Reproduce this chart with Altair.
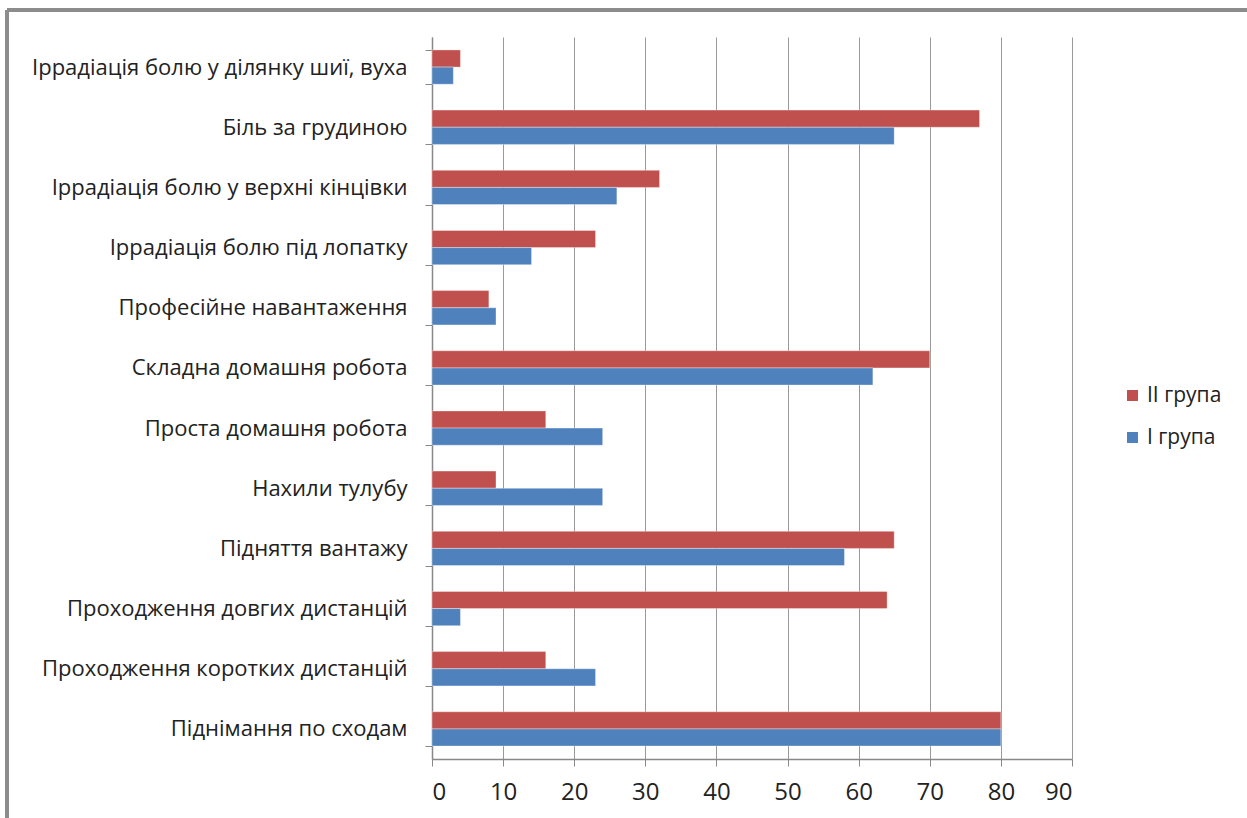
import altair as alt
import pandas as pd

# Categories, listed top to bottom
categories = [
    "Іррадіація болю у ділянку шиї, вуха",
    "Біль за грудиною",
    "Іррадіація болю у верхні кінцівки",
    "Іррадіація болю під лопатку",
    "Професійне навантаження",
    "Складна домашня робота",
    "Проста домашня робота",
    "Нахили тулубу",
    "Підняття вантажу",
    "Проходження довгих дистанцій",
    "Проходження коротких дистанцій",
    "Піднімання по сходам",
]
group_2 = [4, 77, 32, 23, 8, 70, 16, 9, 65, 64, 16, 80]
group_1 = [3, 65, 26, 14, 9, 62, 24, 24, 58, 4, 23, 80]
series = ["II група", "I група"]
colors = ["#C0504D", "#4F81BD"]
x_ticks = [0, 10, 20, 30, 40, 50, 60, 70, 80, 90]

rows = []
for cat, v2, v1 in zip(categories, group_2, group_1):
    rows.append({"cat": cat, "group": series[0], "value": v2})
    rows.append({"cat": cat, "group": series[1], "value": v1})
df = pd.DataFrame(rows)

FONT = "Open Sans"
FS = 22
W, H = 640, 722

bars = alt.Chart(df).mark_bar(
    stroke="white", strokeWidth=0.6, strokeOpacity=0.6
).encode(
    y=alt.Y(
        "cat:N",
        sort=categories,
        scale=alt.Scale(paddingInner=0.43, paddingOuter=0.215),
        axis=alt.Axis(
            title=None,
            labelFont=FONT,
            labelFontSize=FS,
            labelColor="#222222",
            labelPadding=18,
            labelLimit=420,
            ticks=True,
            tickSize=7,
            tickColor="#888888",
            domainColor="#888888",
            domainWidth=1.5,
            grid=False,
            tickBand="extent",
        ),
    ),
    yOffset=alt.YOffset("group:N", sort=series, scale=alt.Scale(paddingInner=0)),
    x=alt.X(
        "value:Q",
        scale=alt.Scale(domain=[0, 90], nice=False),
        axis=alt.Axis(
            title=None,
            values=x_ticks,
            labelFont=FONT,
            labelFontSize=24,
            labelColor="#222222",
            labelPadding=14,
            tickSize=7,
            tickColor="#888888",
            domainColor="#888888",
            domainWidth=1.5,
            gridColor="#999999",
            gridWidth=1,
        ),
    ),
    color=alt.Color(
        "group:N",
        sort=series,
        scale=alt.Scale(domain=series, range=colors),
        legend=alt.Legend(
            title=None,
            orient="none",
            legendX=690,
            legendY=348,
            symbolType="square",
            symbolSize=120,
            symbolStrokeWidth=0,
            labelFont=FONT,
            labelFontSize=FS - 1,
            labelColor="#222222",
            rowPadding=20,
            labelOffset=4,
        ),
    ),
)

# Outer frame of the chart (top and left edges)
frame_top = alt.Chart(df).mark_rule(color="#8c8c8c", strokeWidth=2.5, clip=False).encode(
    x=alt.value(-425), x2=alt.value(820), y=alt.value(-27)
)
frame_left = alt.Chart(df).mark_rule(color="#8c8c8c", strokeWidth=2.5, clip=False).encode(
    x=alt.value(-425), y=alt.value(-27), y2=alt.value(790)
)

chart = alt.layer(bars, frame_top, frame_left).properties(
    width=W,
    height=H,
    autosize=alt.AutoSizeParams(type="none"),
    padding={"left": 432, "top": 37, "right": 175, "bottom": 59},
    background="white",
).configure_view(stroke=None)

chart.save("out.html", embed_options={"renderer": "svg", "actions": False})
